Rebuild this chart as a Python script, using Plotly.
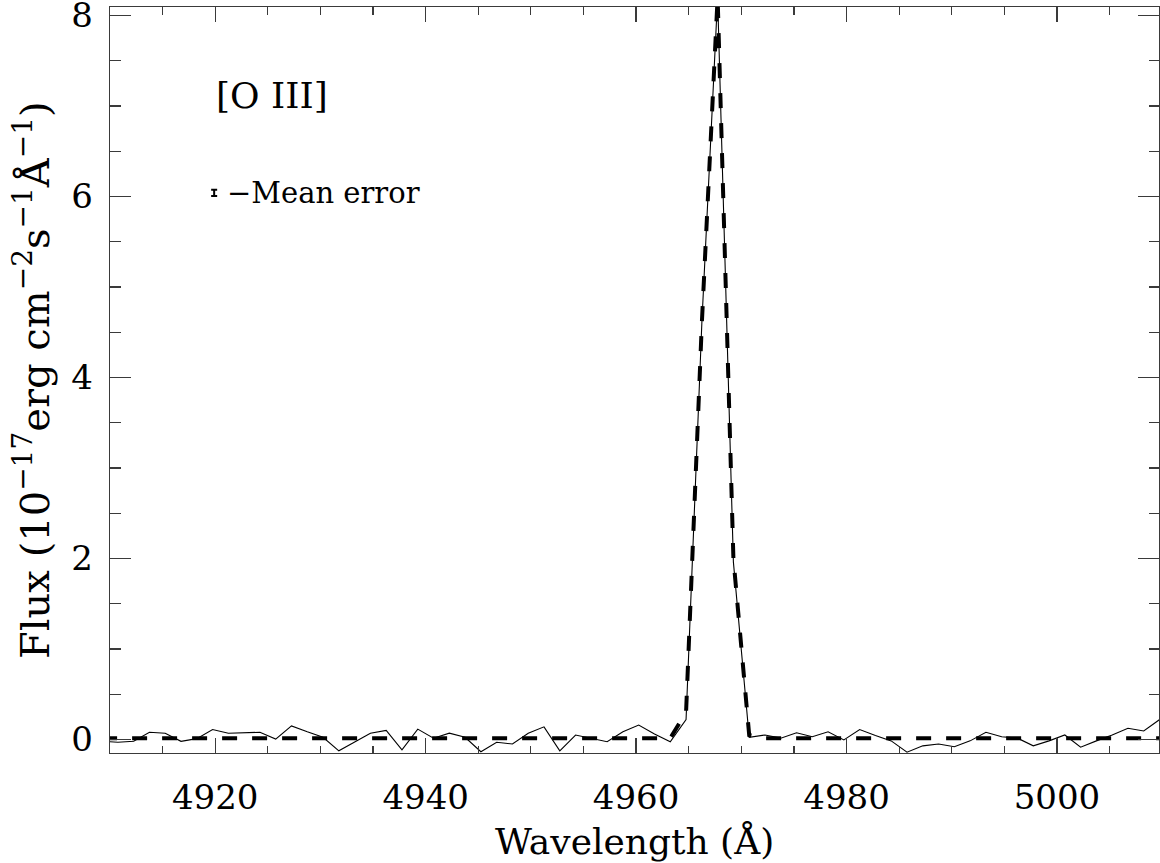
import plotly.graph_objects as go

# ---------------- data ----------------
wavelength = [4909.25, 4910.75, 4912.25, 4913.75, 4915.25, 4916.75, 4918.25, 4919.75,
              4921.25, 4922.75, 4924.25, 4925.75, 4927.25, 4928.75, 4930.25, 4931.75,
              4933.25, 4934.75, 4936.25, 4937.75, 4939.25, 4940.75, 4942.25, 4943.75,
              4945.25, 4946.75, 4948.25, 4949.75, 4951.25, 4952.75, 4954.25, 4955.75,
              4957.25, 4958.75, 4960.25, 4961.75, 4963.25, 4964.75, 4966.25, 4967.75,
              4969.25, 4970.75, 4972.25, 4973.75, 4975.25, 4976.75, 4978.25, 4979.75,
              4981.25, 4982.75, 4984.25, 4985.75, 4987.25, 4988.75, 4990.25, 4991.75,
              4993.25, 4994.75, 4996.25, 4997.75, 4999.25, 5000.75, 5002.25, 5003.75,
              5005.25, 5006.75, 5008.25, 5009.75, 5011.25]

flux = [-0.02, -0.03, -0.02, 0.08, 0.07, -0.02, 0.01, 0.11,
        0.07, 0.075, 0.08, 0.005, 0.15, 0.085, 0.025, -0.125,
        -0.025, 0.07, 0.10, -0.115, 0.115, 0.015, 0.07, 0.025,
        -0.135, -0.03, -0.05, 0.07, 0.14, -0.125, 0.05, 0.015,
        -0.025, 0.085, 0.16, 0.06, -0.025, 0.22, 4.6, 8.2,
        1.96, 0.025, 0.05, 0.015, 0.075, 0.03, 0.085, -0.005,
        0.11, 0.045, -0.015, -0.14, -0.07, -0.05, -0.08, -0.015,
        0.08, 0.03, 0.015, -0.07, -0.015, 0.05, -0.085, -0.015,
        0.05, 0.125, 0.095, 0.22, 0.30]

fit = [0.015, 0.015, 0.015, 0.015, 0.015, 0.015, 0.015, 0.015,
       0.015, 0.015, 0.015, 0.015, 0.015, 0.015, 0.015, 0.015,
       0.015, 0.015, 0.015, 0.015, 0.015, 0.015, 0.015, 0.015,
       0.015, 0.015, 0.015, 0.015, 0.015, 0.015, 0.015, 0.015,
       0.015, 0.015, 0.015, 0.015, 0.015, 0.30, 4.6, 8.2,
       2.0, 0.05, 0.015, 0.015, 0.015, 0.015, 0.015, 0.015,
       0.015, 0.015, 0.015, 0.015, 0.015, 0.015, 0.015, 0.015,
       0.015, 0.015, 0.015, 0.015, 0.015, 0.015, 0.015, 0.015,
       0.015, 0.015, 0.015, 0.015, 0.015]

mean_error_x = [4919.9]
mean_error_y = [6.04]
mean_error_half = [0.035]

x_major = [4920, 4940, 4960, 4980, 5000]
x_major_labels = ["4920", "4940", "4960", "4980", "5000"]
x_minor = [4910, 4915, 4925, 4930, 4935, 4945, 4950, 4955, 4965, 4970, 4975,
           4985, 4990, 4995, 5005]
y_major = [0, 2, 4, 6, 8]
y_major_labels = ["0", "2", "4", "6", "8"]
y_minor = [0.5, 1, 1.5, 2.5, 3, 3.5, 4.5, 5, 5.5, 6.5, 7, 7.5]

FONT = "DejaVu Serif"
AXC = "#3a3a3a"

fig = go.Figure()
fig.add_trace(go.Scatter(x=wavelength, y=flux, mode="lines",
                         line=dict(color="black", width=1.1), showlegend=False,
                         hoverinfo="skip"))
fig.add_trace(go.Scatter(x=wavelength, y=fit, mode="lines",
                         line=dict(color="black", width=4, dash="15px,15px"),
                         showlegend=False, hoverinfo="skip"))
fig.add_trace(go.Scatter(x=mean_error_x, y=mean_error_y, mode="markers",
                         marker=dict(size=1, color="black", opacity=0),
                         error_y=dict(type="data", array=mean_error_half, width=3,
                                      thickness=2, color="black"),
                         showlegend=False, hoverinfo="skip"))

axis_common = dict(showgrid=False, zeroline=False, showline=True, linecolor=AXC,
                   linewidth=1.3, mirror="ticks", ticks="inside", tickcolor=AXC,
                   tickwidth=1.2, ticklabeloverflow="allow", automargin=False,
                   tickfont=dict(family=FONT, size=34, color="black"))

fig.update_xaxes(range=[4910, 5009.7], tickmode="array", tickvals=x_major,
                 ticktext=x_major_labels, ticklen=15, ticklabelstandoff=14,
                 minor=dict(tickmode="array", tickvals=x_minor, ticks="inside",
                            ticklen=7.5, tickcolor=AXC, tickwidth=1.2),
                 **axis_common)
fig.update_yaxes(range=[-0.149, 8.093], tickmode="array", tickvals=y_major,
                 ticktext=y_major_labels, ticklen=21, ticklabelstandoff=9,
                 minor=dict(tickmode="array", tickvals=y_minor, ticks="inside",
                            ticklen=10.5, tickcolor=AXC, tickwidth=1.2),
                 **axis_common)

fig.add_annotation(text="Wavelength (Å)", xref="paper", yref="paper",
                   x=0.5, y=-0.118, xanchor="center", yanchor="middle",
                   showarrow=False, font=dict(family=FONT, size=36, color="black"))
fig.add_annotation(text="Flux (10<sup>−17</sup>erg cm<sup>−2</sup>s<sup>−1</sup>Å<sup>−1</sup>)",
                   xref="paper", yref="paper", x=-0.0744, y=0.5, textangle=-90,
                   xanchor="center", yanchor="middle", showarrow=False,
                   font=dict(family=FONT, size=40, color="black"))
fig.add_annotation(text="[O III]", xref="x", yref="y", x=4919.9, y=7.12,
                   xanchor="left", yanchor="middle", showarrow=False,
                   font=dict(family=FONT, size=36, color="black"))
fig.add_annotation(text="−Mean error", xref="x", yref="y", x=4920.9, y=6.04,
                   xanchor="left", yanchor="middle", showarrow=False,
                   font=dict(family=FONT, size=29, color="black"))

fig.update_layout(width=1160, height=863, margin=dict(l=110, r=1, t=7, b=110,
                                                      autoexpand=False),
                  plot_bgcolor="white", paper_bgcolor="white", showlegend=False)

# remove the default 8 px page margin so the figure fills the window exactly
fig.write_html("out.html",
               config={"displayModeBar": False, "staticPlot": True},
               post_script="document.body.style.margin='0px';"
                           "document.body.style.overflow='hidden';")
